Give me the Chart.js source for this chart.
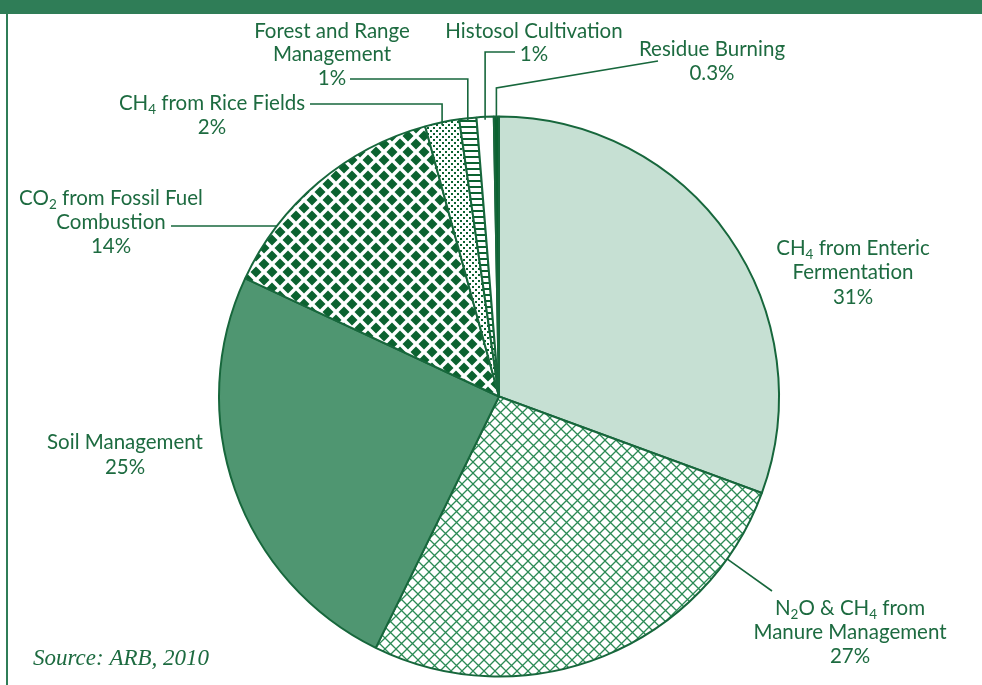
<!DOCTYPE html>
<html lang="en">
<head>
    <meta charset="UTF-8">
    <title>Agriculture emissions</title>
    <script src="https://cdn.jsdelivr.net/npm/chart.js@4.4.1/dist/chart.umd.min.js"></script>
    <style>
        body { margin: 0; background: #fff; }
    </style>
</head>
<body>
<canvas id="chart" width="982" height="685"></canvas>
<script>
    // data, clockwise from 12 o'clock
    const categories = ['CH4 from Enteric Fermentation', 'N2O & CH4 from Manure Management', 'Soil Management',
        'CO2 from Fossil Fuel Combustion', 'CH4 from Rice Fields', 'Forest and Range Management',
        'Histosol Cultivation', 'Residue Burning'];
    const shares = [31, 27, 25, 14, 2, 1, 1, 0.3];
    const shareLabels = ['31%', '27%', '25%', '14%', '2%', '1%', '1%', '0.3%'];
    // label text, {n} = subscript
    const labelLines = [
        ['CH{4} from Enteric', 'Fermentation'],
        ['N{2}O & CH{4} from', 'Manure Management'],
        ['Soil Management'],
        ['CO{2} from Fossil Fuel', 'Combustion'],
        ['CH{4} from Rice Fields'],
        ['Forest and Range', 'Management'],
        ['Histosol Cultivation'],
        ['Residue Burning']
    ];
    const sourceNote = 'Source: ARB, 2010';

    const green = '#1d6b40';
    const lineGreen = '#17673c';
    const mainFont = '20.5px Lato';
    const subFont = '13.5px Lato';

    function tile(w, h, draw) {
        const c = document.createElement('canvas');
        c.width = w; c.height = h;
        const t = c.getContext('2d');
        t.fillStyle = '#fff';
        t.fillRect(0, 0, w, h);
        draw(t);
        return t.createPattern(c, 'repeat');
    }
    const crossHatch = tile(11, 11, t => {
        t.strokeStyle = '#2b8a55';
        t.lineWidth = 1.3;
        t.beginPath();
        t.moveTo(-1, -1); t.lineTo(12, 12);
        t.moveTo(12, -1); t.lineTo(-1, 12);
        t.stroke();
    });
    const diamonds = tile(16, 16, t => {
        t.fillStyle = '#0b6230';
        const d = (x, y) => { t.beginPath(); t.moveTo(x, y - 5.5); t.lineTo(x + 5.5, y); t.lineTo(x, y + 5.5); t.lineTo(x - 5.5, y); t.closePath(); t.fill(); };
        d(8, 8); d(0, 0); d(16, 0); d(0, 16); d(16, 16);
    });
    const dots = tile(6, 6, t => {
        t.fillStyle = '#0b6230';
        t.fillRect(1, 1, 2, 2);
        t.fillRect(4, 4, 2, 2);
    });
    const ladder = tile(6, 6, t => {
        t.fillStyle = '#0b6230';
        t.fillRect(0, 0, 6, 2);
    });

    const fills = ['#c6e0d3', crossHatch, '#4f9671', diamonds, dots, ladder, '#ffffff', '#0b6230'];

    // label layout: centre x, line centres y, leader type
    const layout = [
        { x: 853, y: 248, step: 24.5 },
        { x: 850, y: 608, step: 24, leader: 'toCentre', from: [772, 591] },
        { x: 125, y: 442, step: 25 },
        { x: 111, y: 198, step: 24, leader: 'horizEdge', from: [171, 226] },
        { x: 212, y: 103, step: 24, leader: 'elbow', from: [310, 104] },
        { x: 332, y: 31, step: 23.5, leader: 'elbow', from: [350, 79] },
        { x: 534, y: 31, step: 23, leader: 'elbow', from: [515, 52] },
        { x: 712, y: 49, step: 24, leader: 'slant', from: [658, 61], knee: 88 }
    ];

    function richWidth(ctx, s) {
        let w = 0;
        s.split(/(\{\d\})/).forEach(p => {
            if (!p) return;
            if (p[0] === '{') { ctx.font = subFont; w += ctx.measureText(p.slice(1, -1)).width; }
            else { ctx.font = mainFont; w += ctx.measureText(p).width; }
        });
        return w;
    }
    function drawRich(ctx, s, cx, cy) {
        let x = cx - richWidth(ctx, s) / 2;
        s.split(/(\{\d\})/).forEach(p => {
            if (!p) return;
            if (p[0] === '{') {
                ctx.font = subFont;
                ctx.fillText(p.slice(1, -1), x, cy + 7);
                x += ctx.measureText(p.slice(1, -1)).width;
            } else {
                ctx.font = mainFont;
                ctx.fillText(p, x, cy);
                x += ctx.measureText(p).width;
            }
        });
    }

    const labelPlugin = {
        id: 'labels',
        beforeDraw(chart) {
            const ctx = chart.ctx;
            ctx.save();
            ctx.fillStyle = '#2f7d57';
            ctx.fillRect(0, 0, 982, 14);
            ctx.fillRect(6, 0, 2, 685);
            ctx.restore();
        },
        afterDraw(chart) {
            const ctx = chart.ctx;
            const arcs = chart.getDatasetMeta(0).data;
            ctx.save();
            ctx.fillStyle = green;
            ctx.textAlign = 'left';
            ctx.textBaseline = 'middle';
            layout.forEach((l, i) => {
                const lines = labelLines[i].concat([shareLabels[i]]);
                lines.forEach((s, k) => drawRich(ctx, s, l.x, l.y + k * l.step));
                if (!l.leader) return;
                const a = arcs[i];
                const p = a.getProps(['x', 'y', 'startAngle', 'endAngle', 'outerRadius'], true);
                const mid = (p.startAngle + p.endAngle) / 2;
                const ax = p.x + Math.cos(mid) * p.outerRadius;
                const ay = p.y + Math.sin(mid) * p.outerRadius;
                ctx.strokeStyle = lineGreen;
                ctx.lineWidth = 1.6;
                ctx.beginPath();
                ctx.moveTo(l.from[0], l.from[1]);
                if (l.leader === 'elbow') {
                    ctx.lineTo(ax, l.from[1]);
                    ctx.lineTo(ax, ay + 3);
                } else if (l.leader === 'slant') {
                    ctx.lineTo(ax, l.knee);
                    ctx.lineTo(ax, ay + 3);
                } else if (l.leader === 'horizEdge') {
                    const dy = l.from[1] - p.y;
                    ctx.lineTo(p.x - Math.sqrt(p.outerRadius * p.outerRadius - dy * dy), l.from[1]);
                } else if (l.leader === 'toCentre') {
                    const dx = l.from[0] - p.x, dy = l.from[1] - p.y;
                    const d = Math.sqrt(dx * dx + dy * dy);
                    ctx.lineTo(p.x + dx / d * p.outerRadius, p.y + dy / d * p.outerRadius);
                }
                ctx.stroke();
            });
            ctx.font = 'italic 23px "Liberation Serif"';
            ctx.textAlign = 'left';
            ctx.fillText(sourceNote, 33, 659);
            ctx.restore();
        }
    };

    new Chart(document.getElementById('chart').getContext('2d'), {
        type: 'pie',
        data: {
            labels: categories,
            datasets: [{
                data: shares,
                backgroundColor: fills,
                borderColor: lineGreen,
                borderWidth: 2
            }]
        },
        options: {
            responsive: false,
            animation: false,
            layout: { padding: { left: 218, right: 202, top: 113, bottom: 5 } },
            plugins: {
                legend: { display: false },
                tooltip: { enabled: false }
            }
        },
        plugins: [labelPlugin]
    });
</script>
</body>
</html>
